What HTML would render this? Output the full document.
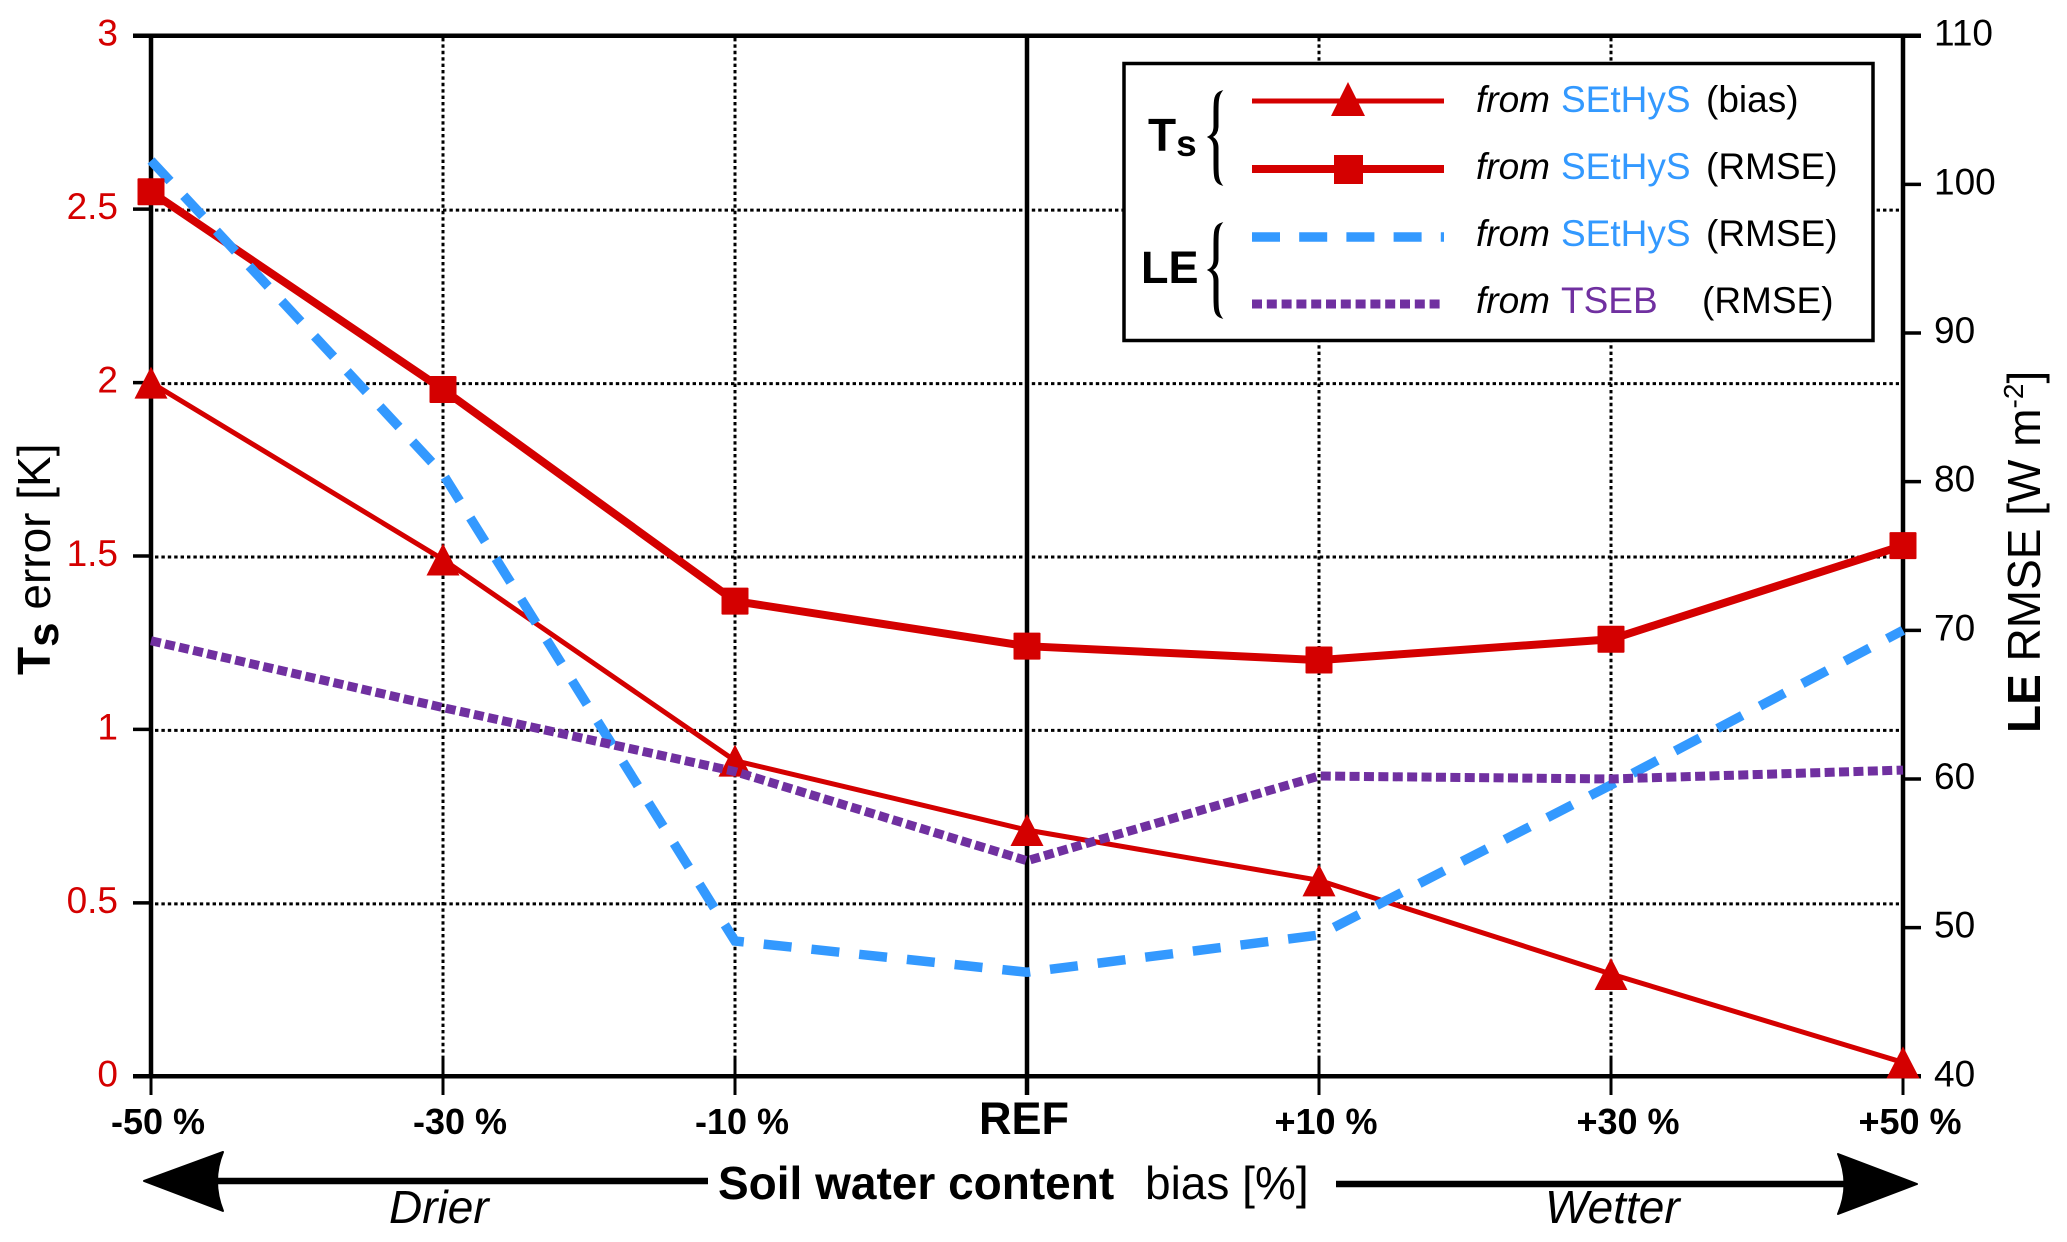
<!DOCTYPE html>
<html>
<head>
<meta charset="utf-8">
<title>Ts and LE errors vs soil water content bias</title>
<style>
html,body{margin:0;padding:0;background:#fff;}
svg{display:block;}
text{font-family:"Liberation Sans",sans-serif;}
</style>
</head>
<body>
<svg id="chart" xmlns="http://www.w3.org/2000/svg" width="2067" height="1242" viewBox="0 0 2067 1242">
  <rect x="0" y="0" width="2067" height="1242" fill="#fff"/>
  <g id="grid"></g>
  <g id="axes"></g>
  <g id="series"></g>

  <text transform="translate(50,675) rotate(-90)" font-size="46"><tspan font-weight="bold">T</tspan><tspan font-weight="bold" font-size="44" dy="8">s</tspan><tspan dy="-8"> error [K]</tspan></text>
  <text transform="translate(2040,733) rotate(-90)" font-size="46"><tspan font-weight="bold">LE</tspan><tspan> RMSE [W m</tspan><tspan font-size="28" dy="-17">-2</tspan><tspan dy="17">]</tspan></text>

  <g>
    <path d="M214 1181H708" stroke="#000" stroke-width="6.5" fill="none"/>
    <path d="M144 1181L223 1152Q211 1181 223 1211Z" fill="#000" stroke="#000" stroke-width="2" stroke-linejoin="round"/>
    <path d="M1336 1184H1848" stroke="#000" stroke-width="6.5" fill="none"/>
    <path d="M1917 1184L1838 1154Q1851 1184 1838 1214Z" fill="#000" stroke="#000" stroke-width="2" stroke-linejoin="round"/>
    <text x="718" y="1199" font-size="46" font-weight="bold">Soil water content</text>
    <text x="1145" y="1199" font-size="46">bias [%]</text>
    <text x="389" y="1223" font-size="46" font-style="italic">Drier</text>
    <text x="1545" y="1223" font-size="46" font-style="italic">Wetter</text>
  </g>

  <g>
    <rect x="1124" y="63.5" width="749" height="277" fill="#fff" stroke="#000" stroke-width="3.5"/>

    <text x="1148" y="151" font-size="46" font-weight="bold">T<tspan font-size="37" dy="5">s</tspan></text>
    <path d="M1222 91C1214 93 1214 100 1214 112L1214 126C1214 132 1212 135 1208 137C1212 139 1214 142 1214 148L1214 164C1214 176 1214 183 1222 185C1218 180 1218 174 1218 164L1218 148C1218 142 1216 139 1212 137C1216 135 1218 132 1218 126L1218 112C1218 102 1218 96 1222 91Z" fill="#000" stroke="#000" stroke-width="1"/>
    <text x="1141" y="283" font-size="45" font-weight="bold">LE</text>
    <path d="M1222 223C1214 225 1214 232 1214 244L1214 259C1214 265 1212 268 1208 270C1212 272 1214 275 1214 281L1214 297C1214 309 1214 316 1222 318C1218 313 1218 307 1218 297L1218 281C1218 275 1216 272 1212 270C1216 268 1218 265 1218 259L1218 244C1218 234 1218 228 1222 223Z" fill="#000" stroke="#000" stroke-width="1"/>

    <g>
      <line x1="1252" y1="101" x2="1444" y2="101" stroke="#d40000" stroke-width="5"/>
      <path d="M1348 82L1365 116H1331Z" fill="#d40000"/>
      <text y="112" font-size="37"><tspan x="1476" font-style="italic">from</tspan><tspan x="1561" fill="#3399ff">SEtHyS</tspan><tspan x="1706">(bias)</tspan></text>
    </g>
    <g>
      <line x1="1252" y1="169" x2="1444" y2="169" stroke="#d40000" stroke-width="8"/>
      <rect x="1334" y="155" width="29" height="29" fill="#d40000"/>
      <text y="179" font-size="37"><tspan x="1476" font-style="italic">from</tspan><tspan x="1561" fill="#3399ff">SEtHyS</tspan><tspan x="1706">(RMSE)</tspan></text>
    </g>
    <g>
      <line x1="1252" y1="237" x2="1444" y2="237" stroke="#3399ff" stroke-width="9.5" stroke-dasharray="28 19.2"/>
      <text y="246" font-size="37"><tspan x="1476" font-style="italic">from</tspan><tspan x="1561" fill="#3399ff">SEtHyS</tspan><tspan x="1706">(RMSE)</tspan></text>
    </g>
    <g>
      <line x1="1252" y1="304" x2="1444" y2="304" stroke="#7030a0" stroke-width="9" stroke-dasharray="10 4.8"/>
      <text y="313" font-size="37"><tspan x="1476" font-style="italic">from</tspan><tspan x="1561" fill="#7030a0">TSEB</tspan><tspan x="1702">(RMSE)</tspan></text>
    </g>
  </g>
</svg>
<script>
// ---- chart data ----
const categories = ["-50 %", "-30 %", "-10 %", "REF", "+10 %", "+30 %", "+50 %"];
const tsBias = [2.0, 1.49, 0.91, 0.71, 0.565, 0.295, 0.04];
const tsRmse = [2.55, 1.98, 1.37, 1.24, 1.2, 1.26, 1.53];
const leSethysRmse = [101.6, 80.5, 49.1, 47.0, 49.5, 59.6, 70.0];
const leTsebRmse = [69.3, 64.8, 60.5, 54.5, 60.2, 60.0, 60.6];
const leftTicks = [0, 0.5, 1, 1.5, 2, 2.5, 3];
const rightTicks = [40, 50, 60, 70, 80, 90, 100, 110];

const NS = "http://www.w3.org/2000/svg";
const RED = "#d40000", BLUE = "#3399ff", PURPLE = "#7030a0";
const plotLeft = 151, plotRight = 1903, plotTop = 35.7, plotBottom = 1076.3;

function xAxis(i) { return plotLeft + i * (plotRight - plotLeft) / (categories.length - 1); }
function yLeft(v) { return plotBottom - (v - leftTicks[0]) * (plotBottom - plotTop) / (leftTicks[leftTicks.length - 1] - leftTicks[0]); }
function yRight(v) { return plotBottom - (v - rightTicks[0]) * (plotBottom - plotTop) / (rightTicks[rightTicks.length - 1] - rightTicks[0]); }

function make(parent, tag, props) {
  const el = document.createElementNS(NS, tag);
  for (const k in props) el.setAttribute(k, props[k]);
  parent.appendChild(el);
  return el;
}
const gridG = document.getElementById("grid");
const axesG = document.getElementById("axes");
const seriesG = document.getElementById("series");

// grid
leftTicks.forEach(function (t) {
  if (t === 0 || t === 3) return;
  const y = yLeft(t) + 1;
  const el = make(gridG, "line", {x1: 155, y1: y, x2: 1899, y2: y, stroke: "#000", "stroke-width": 3, "stroke-dasharray": "3.4 3"});
  
  
});
categories.forEach(function (c, i) {
  if (i === 0 || i === categories.length - 1 || c === "REF") return;
  const el = make(gridG, "line", {x1: xAxis(i), y1: 38, x2: xAxis(i), y2: 1060, stroke: "#000", "stroke-width": 3, "stroke-dasharray": "3.4 3"});
  
  
});

// axes frame
const topLine = make(axesG, "line", {x1: 133, y1: plotTop, x2: 1921, y2: plotTop, stroke: "#000", "stroke-width": 4.5});


const bottomLine = make(axesG, "line", {x1: 133, y1: plotBottom, x2: 1921, y2: plotBottom, stroke: "#000", "stroke-width": 4.5});


const leftLine = make(axesG, "line", {x1: plotLeft, y1: plotTop, x2: plotLeft, y2: plotBottom, stroke: "#000", "stroke-width": 4.5});


const rightLine = make(axesG, "line", {x1: plotRight, y1: plotTop, x2: plotRight, y2: plotBottom, stroke: "#000", "stroke-width": 4.5});



// left ticks
leftTicks.forEach(function (t) {
  const y = yLeft(t);
  const tick = make(axesG, "line", {x1: 133, y1: y, x2: plotLeft, y2: y, stroke: "#000", "stroke-width": 3.5});
  
  
  const label = make(axesG, "text", {x: 118, y: y + 10, "text-anchor": "end", "font-size": 37, fill: RED});
  label.textContent = String(t);
  
  
});

// right ticks
rightTicks.forEach(function (t) {
  const y = yRight(t);
  const tick = make(axesG, "line", {x1: plotRight, y1: y, x2: 1921, y2: y, stroke: "#000", "stroke-width": 3.5});
  
  
  const label = make(axesG, "text", {x: 1934, y: y + 10, "font-size": 37, fill: "#000"});
  label.textContent = String(t);
  
  
});

// x ticks
const xLabelShift = [7, 17, 7, -3, 7, 17, 7];
categories.forEach(function (c, i) {
  const x = xAxis(i);
  const isRef = c === "REF";
  const tick = make(axesG, "line", {x1: x, y1: isRef ? plotTop : 1058, x2: x, y2: 1095, stroke: "#000", "stroke-width": isRef ? 4.5 : 3});
  
  
  const label = make(axesG, "text", {x: x + xLabelShift[i], y: 1134, "text-anchor": "middle", "font-size": isRef ? 45 : 36, "font-weight": "bold", fill: "#000"});
  label.textContent = c;
  
  
});

function linePoints(values, yFn) {
  return values.map(function (v, i) { return xAxis(i) + "," + yFn(v); }).join(" ");
}

// series lines
const lineTsBias = make(seriesG, "polyline", {points: linePoints(tsBias, yLeft), fill: "none", stroke: RED, "stroke-width": 5});


const lineTsRmse = make(seriesG, "polyline", {points: linePoints(tsRmse, yLeft), fill: "none", stroke: RED, "stroke-width": 8});


const lineLeSethys = make(seriesG, "polyline", {points: linePoints(leSethysRmse, yRight), fill: "none", stroke: BLUE, "stroke-width": 9.5, "stroke-dasharray": "28 20"});



// markers
tsBias.forEach(function (v, i) {
  const x = xAxis(i), y = yLeft(v);
  const m = make(seriesG, "path", {d: "M" + x + " " + (y - 16) + "L" + (x + 16.5) + " " + (y + 16) + "H" + (x - 16.5) + "Z", fill: RED});
  
  
});
tsRmse.forEach(function (v, i) {
  const m = make(seriesG, "rect", {x: xAxis(i) - 13.5, y: yLeft(v) - 13.5, width: 27, height: 27, rx: 1, fill: RED});
  
  
});

const lineLeTseb = make(seriesG, "polyline", {points: linePoints(leTsebRmse, yRight), fill: "none", stroke: PURPLE, "stroke-width": 9, "stroke-dasharray": "10 4.4"});


</script>
</body>
</html>
